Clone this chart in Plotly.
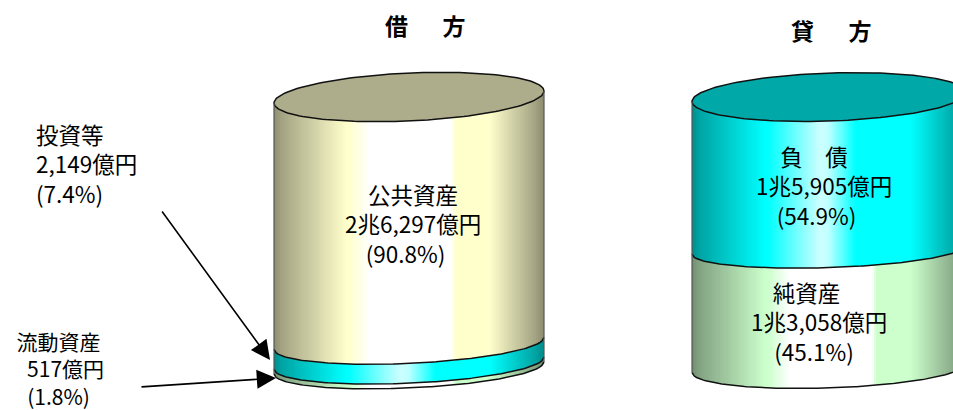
import numpy as np
import plotly.graph_objects as go

# ---- data (億円) ----
debit_names = ["公共資産", "投資等", "流動資産"]
debit_values = [26297, 2149, 517]
debit_amounts = ["2兆6,297億円", "2,149億円", "517億円"]
debit_shares = ["(90.8%)", "(7.4%)", "(1.8%)"]
credit_names = ["負　債", "純資産"]
credit_values = [15905, 13058]
credit_amounts = ["1兆5,905億円", "1兆3,058億円"]
credit_shares = ["(54.9%)", "(45.1%)"]
titles = ["借\u3000\u2002方", "貸\u3000\u2002方"]

# ---- geometry / style ----
W, H = 953, 410
BASE_PX = 388
PX_H = 267
K = sum(debit_values) / PX_H   # value units per pixel
KHAKI, CYAN, GREEN = (255, 255, 204), (0, 255, 255), (204, 255, 204)
STYLE = {"公共資産": KHAKI, "投資等": CYAN, "流動資産": GREEN, "負　債": CYAN, "純資産": GREEN}
DARK = [(0.0, 0.55), (0.03, 0.64), (0.27, 1.0), (0.80, 1.0), (0.97, 0.64), (1.0, 0.55)]
WHITE_PLATEAU = [(0.0, 0), (0.28, 0), (0.36, 1), (0.66, 1), (0.675, 0), (1.0, 0)]
WHITE_PEAK = [(0.0, 0), (0.28, 0), (0.47, 0.8), (0.50, 0.75), (0.60, 0), (1.0, 0)]
PAD = "\u00a0"
FONT = "Noto Sans CJK JP"


def strip_color(rgb, t):
    d = np.interp(t, *zip(*DARK))
    spec = WHITE_PEAK if rgb == CYAN else WHITE_PLATEAU
    w = np.interp(t, *zip(*spec))
    c = [v * d for v in rgb]
    c = [v + (255 - v) * w for v in c]
    return "rgb(%d,%d,%d)" % tuple(round(v) for v in c)


def front(x, cx, a, b, s):
    u = np.clip((x - cx) / a, -1, 1)
    return -b * np.sqrt(1 - u * u) + s * u  # pixels upward from level centre


fig = go.Figure()


def cylinder(cx, a, names, values, top_fill, bs, s):
    # values are listed top to bottom; stack them from the base up
    x0, x1 = cx - a, cx + a
    edges = np.cumsum([0] + list(values[::-1]))
    names_up = list(names[::-1])
    step = 2
    xs = np.arange(x0, x1, step)
    for i, nm in enumerate(names_up):
        lo, hi = edges[i], edges[i + 1]
        for xa in xs:
            xb = min(xa + step + 1, x1)
            xx = np.linspace(xa, xb, 4)
            ylo = lo + (front(xx, cx, a, bs[i], s) + bs[i]) * K
            yhi = hi + (front(xx, cx, a, bs[i + 1], s) + bs[i + 1]) * K
            col = strip_color(STYLE[nm], ((xa + xb) / 2 - x0) / (2 * a))
            fig.add_trace(go.Scatter(
                x=np.r_[xx, xx[::-1]], y=np.r_[ylo, yhi[::-1]], mode="lines",
                fill="toself", fillcolor=col, line=dict(width=0), hoverinfo="skip", showlegend=False))
    # top ellipse
    th = np.linspace(0, 2 * np.pi, 181)
    xt = cx + a * np.cos(th)
    yt = edges[-1] + (bs[-1] * np.sin(th) + s * np.cos(th) + bs[-1]) * K
    fig.add_trace(go.Scatter(x=xt, y=yt, mode="lines", fill="toself", fillcolor=top_fill,
                             line=dict(color="#111", width=1.5), hoverinfo="skip", showlegend=False))
    # boundary arcs
    xa = np.linspace(x0, x1, 121)
    for j in range(len(values)):
        ya = edges[j] + (front(xa, cx, a, bs[j], s) + bs[j]) * K
        fig.add_trace(go.Scatter(x=xa, y=ya, mode="lines", line=dict(color="#111", width=1.5),
                                 hoverinfo="skip", showlegend=False))
    # side edges
    for xe, sgn in ((x0, -1), (x1, 1)):
        ylow = (sgn * s + bs[0]) * K
        yhigh = edges[-1] + (sgn * s + bs[-1]) * K
        fig.add_trace(go.Scatter(x=[xe, xe], y=[ylow, yhigh], mode="lines",
                                 line=dict(color="#555", width=1.2), hoverinfo="skip", showlegend=False))


cylinder(409, 135, debit_names, debit_values, "#adad8c", [20, 20, 20, 24], 6)
cylinder(829, 137, credit_names, credit_values, "#00a8a8", [20, 18, 24], 4.5)


def label(lines, px, py, size=22.5, bold=False, anchor="center"):
    text = "<br>".join(lines)
    fig.add_annotation(x=px / W, y=1 - py / H, xref="paper", yref="paper",
                       text=f"<b>{text}</b>" if bold else text,
                       showarrow=False, xanchor=anchor, yanchor="middle", align=anchor,
                       font=dict(family=FONT, size=size, color="#000"))


def arrow(x_from, y_from, x_to, y_to):
    fig.add_annotation(x=x_to / W, y=1 - y_to / H, xref="paper", yref="paper", ax=x_from - x_to, ay=y_from - y_to,
                       axref="pixel", ayref="pixel", text="", showarrow=True, arrowhead=2, arrowsize=2.4,
                       arrowwidth=1.6, arrowcolor="#000")


label([titles[0]], 425, 25, size=23, bold=True)
label([titles[1]], 831, 30, size=23, bold=True)

label([debit_names[0], debit_amounts[0], debit_shares[0] + PAD * 3], 413, 223)
label([debit_names[1], debit_amounts[1], debit_shares[1]], 34, 163, anchor="left")
label([debit_names[2], PAD * 3 + debit_amounts[2], debit_shares[2]], 58, 368, size=21)
label([credit_names[0] + PAD * 4, credit_amounts[0], credit_shares[0] + PAD * 3], 824, 186)
label([credit_names[1] + PAD * 5, credit_amounts[1], credit_shares[1] + PAD * 2], 819, 321)

arrow(161, 210, 270, 360)
arrow(140, 387, 276, 378)

fig.update_layout(
    width=W, height=H, margin=dict(l=0, r=0, t=0, b=0),
    paper_bgcolor="white", plot_bgcolor="white", showlegend=False,
    xaxis=dict(range=[0, W], visible=False, fixedrange=True),
    yaxis=dict(range=[(BASE_PX - H) * K, BASE_PX * K], visible=False, fixedrange=True),
)
fig.write_html("out.html", config={"displayModeBar": False},
               post_script="document.body.style.margin='0';")
